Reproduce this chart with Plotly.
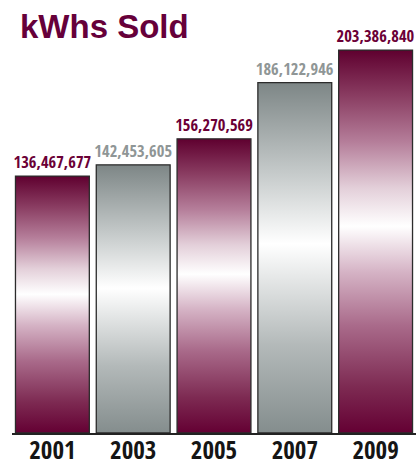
import plotly.graph_objects as go

# ---- data ----
years = ["2001", "2003", "2005", "2007", "2009"]
kwh_sold = [136467677, 142453605, 156270569, 186122946, 203386840]
title_text = "kWhs Sold"

# ---- styles ----
MAROON_SCALE = [
    [0.00, "#640033"],
    [0.12, "#7d2a52"],
    [0.28, "#a96a8a"],
    [0.42, "#d5b3c5"],
    [0.54, "#ffffff"],
    [0.64, "#e3cfd9"],
    [0.76, "#b57e9a"],
    [0.88, "#8a3d62"],
    [1.00, "#5f002f"],
]
GRAY_SCALE = [
    [0.00, "#848d8d"],
    [0.25, "#b3b9b9"],
    [0.54, "#ffffff"],
    [0.75, "#c3c8c8"],
    [1.00, "#7d8686"],
]
MAROON_TEXT = "#6b0036"
GRAY_TEXT = "#8f9696"
COND = "Open Sans Condensed"
BAR_KIND = ["m", "g", "m", "g", "m"]
HALF = 0.457

fig = go.Figure()
xs = list(range(len(years)))
for i, v in zip(xs, kwh_sold):
    scale = MAROON_SCALE if BAR_KIND[i] == "m" else GRAY_SCALE
    fig.add_trace(go.Scatter(
        x=[i - HALF, i + HALF, i + HALF, i - HALF, i - HALF],
        y=[0, 0, v, v, 0],
        mode="lines", fill="toself",
        fillgradient=dict(type="vertical", colorscale=scale),
        line=dict(color="#2b2b2b", width=1.3),
        hoverinfo="skip", showlegend=False,
    ))

label_colors = [MAROON_TEXT if k == "m" else GRAY_TEXT for k in BAR_KIND]
fig.add_trace(go.Bar(
    x=xs, y=kwh_sold, width=2 * HALF,
    marker=dict(color="rgba(0,0,0,0)", line=dict(width=0)),
    text=[f"{v:,}" for v in kwh_sold],
    textposition="outside", textangle=0, constraintext="none",
    textfont=dict(family=COND, size=16.5, color=label_colors, weight="bold"),
    cliponaxis=False, showlegend=False, hoverinfo="skip",
))

fig.add_annotation(
    text=title_text, xref="paper", yref="paper",
    x=(18 - 12) / 404, y=1 - 6 / 433, xanchor="left", yanchor="top", showarrow=False,
    font=dict(family="Liberation Sans", size=33, color="#66003a", weight="bold"),
)

fig.update_layout(
    width=419, height=466,
    margin=dict(l=12, r=3, t=0, b=33, autoexpand=False),
    paper_bgcolor="white", plot_bgcolor="white",
    showlegend=False,
    xaxis=dict(
        range=[-0.5, 4.5], tickvals=xs, ticktext=years, automargin=False,
        tickfont=dict(family=COND, size=25, color="#151515", weight="bold"),
        ticklabelstandoff=-6,
        showline=True, linecolor="#222222", linewidth=2,
        showgrid=False, zeroline=False, ticks="",
    ),
    yaxis=dict(range=[0, 230e6], visible=False, showgrid=False, zeroline=False, automargin=False),
)

fig.write_html("out.html", config={"displayModeBar": False},
               post_script="document.body.style.margin='0';")
